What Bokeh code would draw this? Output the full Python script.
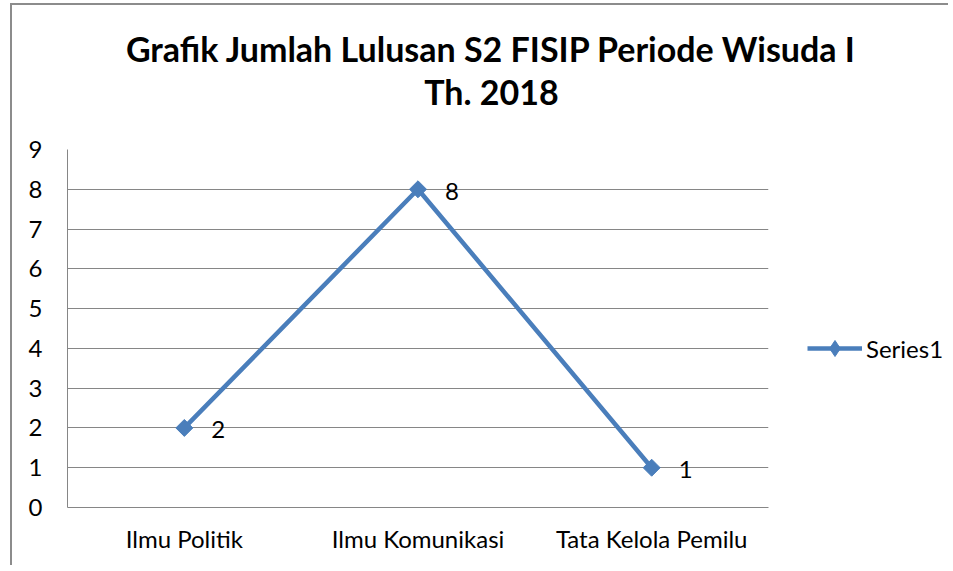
from bokeh.plotting import figure
from bokeh.models import (ColumnDataSource, FactorRange, Range1d, FixedTicker, Title,
                          LabelSet, Legend, LegendItem, Spacer)
from bokeh.layouts import row, column
from bokeh.core.properties import value
from bokeh.embed import file_html
from bokeh.resources import INLINE
import math

categories = ["Ilmu Politik", "Ilmu Komunikasi", "Tata Kelola Pemilu"]
series1 = [2, 8, 1]
y_ticks = [0, 1, 2, 3, 4, 5, 6, 7, 8, 9]
title_lines = ["Grafik Jumlah Lulusan S2 FISIP Periode Wisuda I", "Th. 2018"]
series_name = "Series1"

FONT = "Lato"
BLUE = "#4A7EBB"
GRID = "#868686"
EDGE = "#8c8c8c"
FS = "24px"


def blank(width, height, **kw):
    f = figure(width=width, height=height, output_backend="svg", toolbar_location=None,
               x_range=Range1d(0, 1), y_range=Range1d(0, 1), **kw)
    f.axis.visible = False
    f.grid.visible = False
    f.outline_line_color = None
    f.background_fill_color = "white"
    f.border_fill_color = "white"
    return f


# ---- title strip (spans the whole chart width) ----
p0 = blank(936, 130, min_border_left=22, min_border_right=0,
           min_border_top=106, min_border_bottom=0)
p0.add_layout(Title(text=title_lines[1], align="center", standoff=0,
                    text_font=FONT, text_font_style="bold", text_font_size="34px",
                    text_color="black"), "above")
p0.add_layout(Title(text=title_lines[0], align="center", standoff=0,
                    text_font=FONT, text_font_style="bold", text_font_size="34px",
                    text_color="black"), "above")

# ---- main plot ----
src = ColumnDataSource(dict(x=categories, y=series1, lbl=[str(v) for v in series1]))

p = figure(width=766, height=430, output_backend="svg", toolbar_location=None,
           x_range=FactorRange(*categories, range_padding=0), y_range=Range1d(0, 9),
           min_border_left=55, min_border_right=10, min_border_top=14, min_border_bottom=58)
p.outline_line_color = None
p.background_fill_color = "white"
p.border_fill_color = "white"

p.xgrid.grid_line_color = None
p.ygrid.grid_line_color = GRID
p.ygrid.grid_line_width = 1
p.yaxis.ticker = FixedTicker(ticks=y_ticks)

for ax in (p.xaxis[0], p.yaxis[0]):
    ax.axis_line_color = GRID
    ax.axis_line_width = 1
    ax.major_tick_line_color = None
    ax.minor_tick_line_color = None
    ax.major_tick_in = 0
    ax.major_tick_out = 0
    ax.major_label_text_font = FONT
    ax.major_label_text_font_size = FS
    ax.major_label_text_color = "black"
p.yaxis.major_label_standoff = 25
p.xaxis.major_label_standoff = 16

line = p.line("x", "y", source=src, line_color=BLUE, line_width=4.5)
pts = p.scatter("x", "y", source=src, marker="square", size=12, angle=math.pi / 4,
                fill_color=BLUE, line_color=BLUE)

labels = LabelSet(x="x", y="y", text="lbl", source=src, x_offset=27, y_offset=-2,
                  text_align="left", text_baseline="middle",
                  text_font=value(FONT), text_font_size=FS, text_color="black")
p.add_layout(labels)

# ---- legend panel to the right of the plot ----
p2 = blank(170, 430, min_border_left=0, min_border_right=0, min_border_top=0,
           min_border_bottom=0)
lg_src = ColumnDataSource(dict(x=[float("nan")], y=[float("nan")]))
lg_line = p2.line("x", "y", source=lg_src, line_color=BLUE, line_width=4.5)
lg_pt = p2.scatter("x", "y", source=lg_src, marker="diamond", size=17,
                   fill_color=BLUE, line_color=BLUE)
legend = Legend(items=[LegendItem(label=series_name, renderers=[lg_line, lg_pt])],
                location=(29, 139), orientation="vertical",
                glyph_width=55, glyph_height=40, label_height=40,
                padding=0, margin=0, spacing=0, label_standoff=4,
                label_text_font=FONT, label_text_font_size=FS,
                label_text_color="black", border_line_color=None,
                background_fill_alpha=0)
p2.add_layout(legend)

# chart-area frame edges (left and top) as thin spacers
edge_left = Spacer(width=2, height=562, styles={"background-color": EDGE})
edge_top = Spacer(width=936, height=2, styles={"background-color": EDGE})

inner = column(edge_top, p0, row(p, p2, spacing=0), spacing=0)
layout = row(edge_left, inner, spacing=0,
             styles={"margin-left": "10px", "margin-top": "3px"})

open("out.html", "w").write(file_html(layout, INLINE))
